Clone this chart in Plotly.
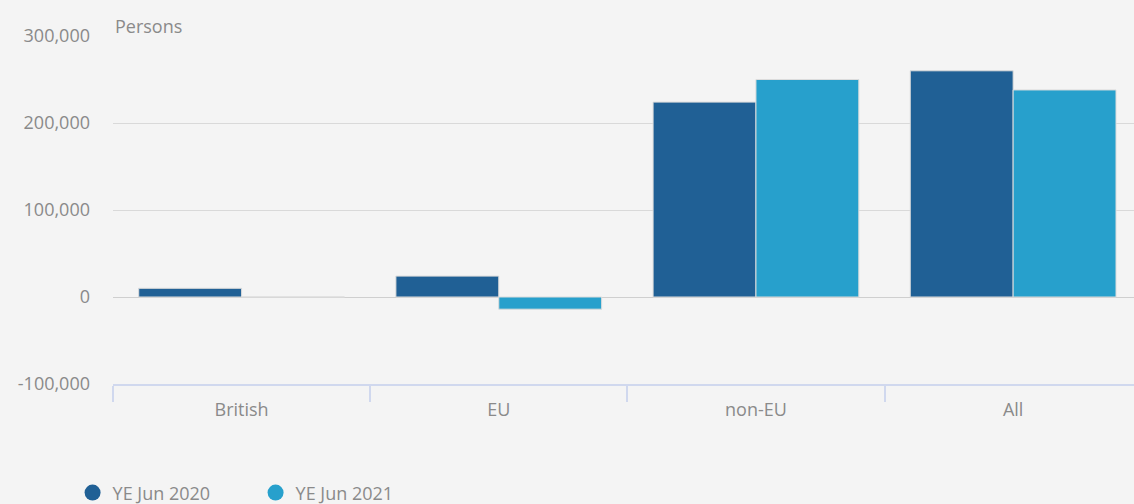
import plotly.graph_objects as go

categories = ["British", "EU", "non-EU", "All"]
ye_jun_2020 = [10000, 24000, 224000, 260000]
ye_jun_2021 = [0, -14000, 250000, 238000]
series_names = ["YE Jun 2020", "YE Jun 2021"]
y_ticks = [-100000, 0, 100000, 200000, 300000]
y_tick_labels = ["-100,000", "0", "100,000", "200,000", "300,000"]

dark = "#206095"
light = "#27a0cc"
txt = "#8a8a8a"
bg = "#f4f4f4"

fig = go.Figure()
for name, vals, col in [(series_names[0], ye_jun_2020, dark), (series_names[1], ye_jun_2021, light)]:
    fig.add_trace(go.Bar(x=categories, y=vals, name=name, marker_color=col,
                         marker_line=dict(color="#dcdcdc", width=1), showlegend=False))
for name, col in [(series_names[0], dark), (series_names[1], light)]:
    fig.add_trace(go.Scatter(x=[None], y=[None], mode="markers", name=name,
                             marker=dict(color=col, size=17, symbol="circle")))

fig.update_layout(
    width=1134, height=504,
    paper_bgcolor=bg, plot_bgcolor=bg,
    margin=dict(l=113, r=0, t=36, b=120),
    barmode="group", bargap=0.2, bargroupgap=0,
    font=dict(family="Open Sans", size=18, color=txt),
    legend=dict(orientation="h", xref="container", yref="container",
                x=0.064, y=0.022, xanchor="left", yanchor="middle",
                font=dict(size=18, color=txt), itemwidth=30,
                entrywidth=138, entrywidthmode="pixels",
                bgcolor="rgba(0,0,0,0)"),
    annotations=[dict(text="Persons", xref="paper", yref="paper", x=0.0, y=1.0,
                      xanchor="left", yanchor="bottom", showarrow=False,
                      font=dict(size=18, color=txt), yshift=-4)],
)
fig.update_xaxes(range=[-0.5, 3.47], showgrid=False, showline=True,
                 linecolor="#d0d8ee", linewidth=2,
                 ticks="outside", tickson="boundaries", ticklen=16,
                 tickcolor="#d0d8ee", tickwidth=2, ticklabelstandoff=8,
                 tickfont=dict(size=18, color=txt), fixedrange=True)
fig.update_yaxes(range=[-100000, 300000], tickvals=y_ticks, ticktext=y_tick_labels,
                 showgrid=True, gridcolor="#d9d9d9", gridwidth=1,
                 zeroline=True, zerolinecolor="#cfcfcf", zerolinewidth=1,
                 ticklabelstandoff=22, tickfont=dict(size=18, color=txt))

fig.write_html("out.html", config={"displayModeBar": False},
               post_script="document.body.style.margin='0';document.body.style.overflow='hidden';")
